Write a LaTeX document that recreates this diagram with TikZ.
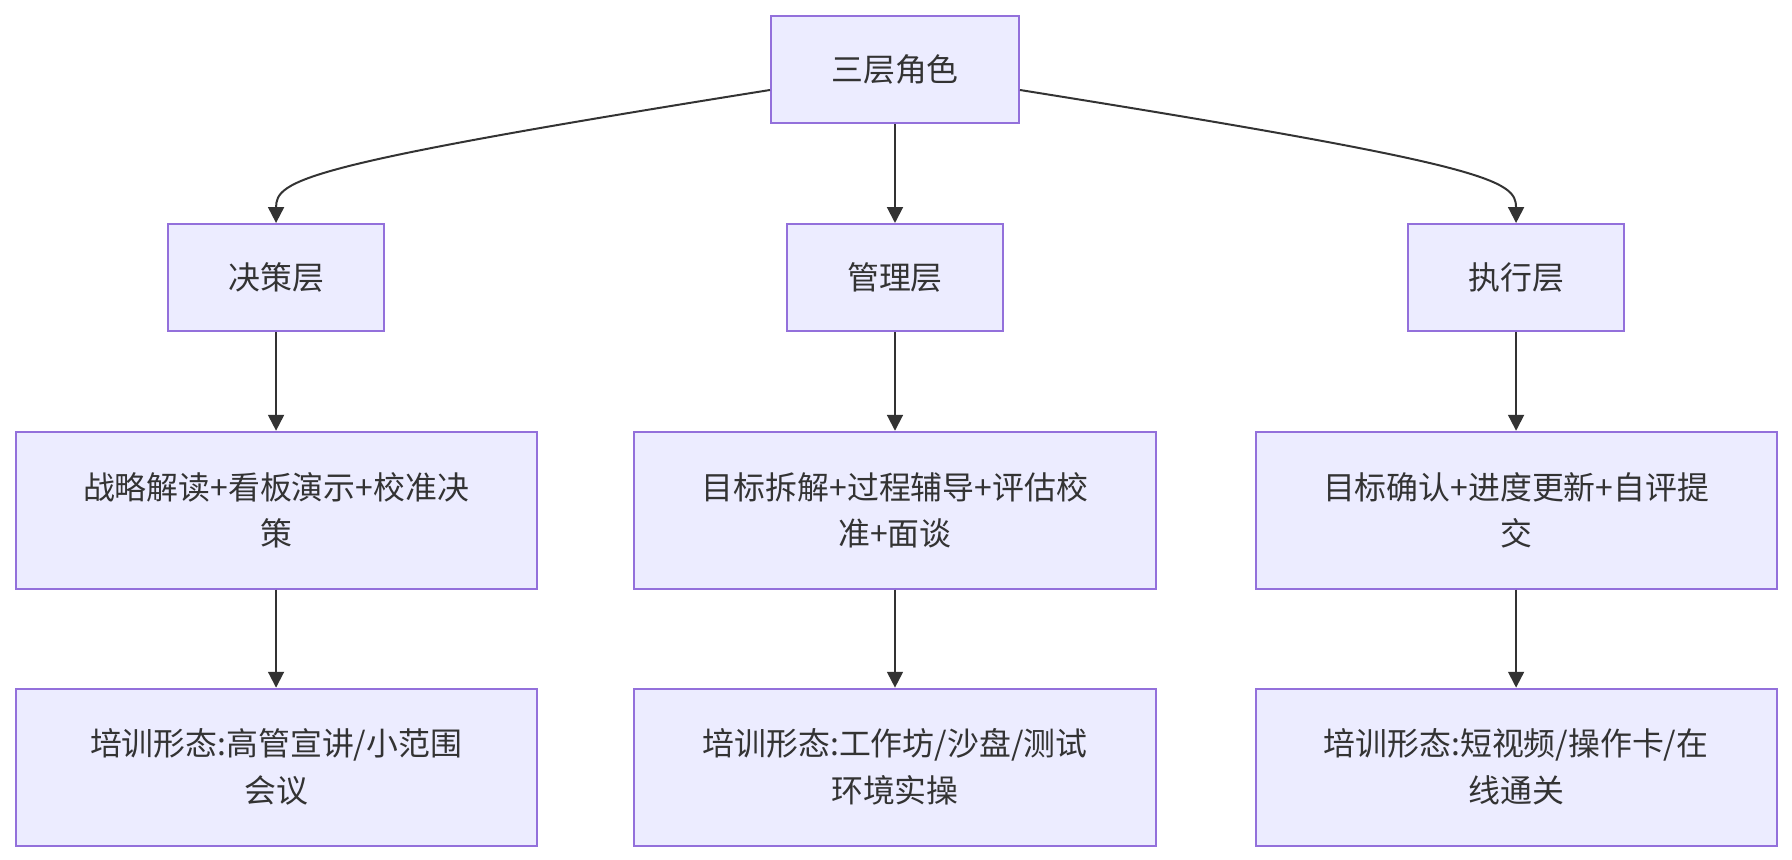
\documentclass[tikz,border=0pt]{standalone}
\usepackage{fontspec}
\setmainfont{Noto Sans CJK SC}
\usepackage{tikz}
\usetikzlibrary{arrows.meta,positioning}
\definecolor{roleFill}{HTML}{ECECFF}
\definecolor{roleBorder}{HTML}{9370DB}
\definecolor{inkGray}{HTML}{333333}

\begin{document}
\begin{tikzpicture}[
  font=\fontsize{16}{23.5}\selectfont,
  >={Triangle[length=0.11in, width=0.11in]},
  rolebox/.style={draw=roleBorder, fill=roleFill, line width=1pt, text=inkGray, align=center, inner sep=0pt},
  headbox/.style={rolebox, minimum width=1.722in, minimum height=0.743in},
  layerbox/.style={rolebox, minimum width=1.50in, minimum height=0.743in},
  detailbox/.style={rolebox, minimum width=3.618in, minimum height=1.090in},
  flow/.style={->, line width=1pt, draw=inkGray}
]

  % Canvas
  \useasboundingbox (0, 0) rectangle (12.444in, -5.972in);

  % Root
  \node[headbox] (roles) at (6.215in, -0.483in) {三层角色};

  % Row 1: Layers
  \node[layerbox] (decide) at (1.917in, -1.927in) {决策层};
  \node[layerbox] (manage) at (6.215in, -1.927in) {管理层};
  \node[layerbox] (execute) at (10.528in, -1.927in) {执行层};

  % Row 2: Actions
  \node[detailbox, below=0.686in of decide] (decideTask) {战略解读+看板演示+校准决\\策};
  \node[detailbox, below=0.686in of manage] (manageTask) {目标拆解+过程辅导+评估校\\准+面谈};
  \node[detailbox, below=0.686in of execute] (executeTask) {目标确认+进度更新+自评提\\交};

  % Row 3: Training Formats
  \node[detailbox, below=0.680in of decideTask] (decideForm) {培训形态:高管宣讲/小范围\\会议};
  \node[detailbox, below=0.680in of manageTask] (manageForm) {培训形态:工作坊/沙盘/测试\\环境实操};
  \node[detailbox, below=0.680in of executeTask] (executeForm) {培训形态:短视频/操作卡/在\\线通关};

  % Root Connectors
  \draw[flow] (roles.west |- 0, -0.625in) .. controls (2.083in, -1.146in) and (decide.north |- 0, -1.250in) .. (decide.north);
  \draw[flow] (roles.south) -- (manage.north);
  \draw[flow] (roles.east |- 0, -0.625in) .. controls (10.347in, -1.146in) and (execute.north |- 0, -1.250in) .. (execute.north);

  % Column Connectors
  \foreach \col in {decide, manage, execute} {
    \draw[flow] (\col.south) -- (\col Task.north);
    \draw[flow] (\col Task.south) -- (\col Form.north);
  }

\end{tikzpicture}
\end{document}
